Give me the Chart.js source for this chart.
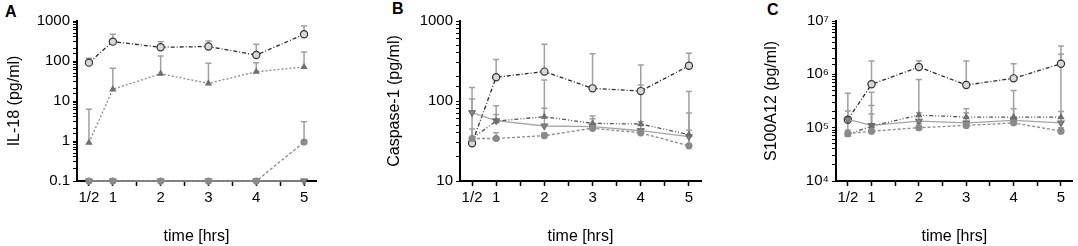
<!DOCTYPE html>
<html>
<head>
<meta charset="utf-8">
<script src="https://cdn.jsdelivr.net/npm/chart.js@4"></script>
<style>
  body { margin: 0; background: #fff; width: 1078px; height: 246px; position: relative; overflow: hidden; }
  canvas { position: absolute; top: 0; }
  .letter { position: absolute; font: bold 16px Arial, "Liberation Sans", sans-serif; color: #000; }
</style>
</head>
<body>
<div class="letter" style="left:5px;top:3px">A</div>
<div class="letter" style="left:392px;top:0px">B</div>
<div class="letter" style="left:767px;top:1px">C</div>
<canvas id="il18" width="360" height="246" style="left:0px"></canvas>
<canvas id="casp" width="358" height="246" style="left:360px"></canvas>
<canvas id="s100" width="360" height="246" style="left:718px"></canvas>
<script>
// time points and x-axis labels
const times = [0.5, 1, 2, 3, 4, 5];
const timeLabels = ["1/2", "1", "2", "3", "4", "5"];
const xTickValues = [0.5, 1, 1.5, 2, 2.5, 3, 3.5, 4, 4.5, 5];

// IL-18 (pg/ml)
const il18Open = [91, 305, 220, 230, 141, 465];
const il18OpenSD = [117, 465, 305, 316, 262, 750];
const il18Up = [0.91, 19.6, 48, 27.5, 54, 71];
const il18UpSD = [6.2, 66, 133, 88, 91, 168];
const il18Filled = [0.1, 0.1, 0.1, 0.1, 0.1, 0.94];
const il18FilledSD = [null, null, null, null, null, 3.05];
const il18Down = [0.1, 0.1, 0.1, 0.1, 0.1, 0.1];
const il18DownSD = [null, null, null, null, null, null];

// Caspase-1 (pg/ml)
const caspOpen = [29.6, 198, 233, 144, 133, 276];
const caspOpenSD = [34, 331, 512, 390, 282, 395];
const caspDown = [71.5, 56.7, 48.7, 47.7, 42.5, 35.8];
const caspDownSD = [147, 87, 183, 65, 158, 131];
const caspUp = [34, 56, 63.6, 52.5, 51.5, 38];
const caspUpSD = [106, 68, 81, 60, 55, 71];
const caspFilled = [34, 34, 36.9, 45.6, 40, 27.5];
const caspFilledSD = [44.7, 40, 40, 50, 45, 43];

// S100A12 (pg/ml)
const s100Open = [1.41e5, 6.5e5, 1.37e6, 6.3e5, 8.4e5, 1.58e6];
const s100OpenSD = [4.4e5, 1.78e6, 1.8e6, 1.78e6, 1.58e6, 3.4e6];
const s100Down = [1.43e5, 1.1e5, 1.33e5, 1.23e5, 1.37e5, 1.23e5];
const s100DownSD = [2.05e5, 4.6e5, 8e5, 2.26e5, 5e5, 2.37e6];
const s100Up = [7.5e4, 1.07e5, 1.72e5, 1.58e5, 1.58e5, 1.58e5];
const s100UpSD = [1.6e5, 2.6e5, 1.9e5, 1.9e5, 2.26e5, 2e5];
const s100Filled = [7.7e4, 8.6e4, 1e5, 1.1e5, 1.23e5, 8.6e4];
const s100FilledSD = [9e4, 1.8e5, 1.2e5, 1.3e5, 1.4e5, 1e5];

Chart.defaults.font.family = "Arial, 'Liberation Sans', sans-serif";
Chart.defaults.color = "#000";

// upward SD bars with caps, drawn under the markers
const errorBars = {
  id: "errorBars",
  beforeDatasetsDraw(chart) {
    const ctx = chart.ctx;
    const xs = chart.scales.x;
    const ys = chart.scales.y;
    ctx.save();
    ctx.strokeStyle = "#a0a0a0";
    ctx.lineWidth = 1.5;
    chart.data.datasets.forEach((ds) => {
      (ds.sd || []).forEach((top, i) => {
        if (top == null) return;
        const px = xs.getPixelForValue(ds.data[i].x);
        const p0 = ys.getPixelForValue(ds.data[i].y);
        const p1 = ys.getPixelForValue(top);
        ctx.beginPath();
        ctx.moveTo(px, p0);
        ctx.lineTo(px, p1);
        ctx.moveTo(px - 3, p1);
        ctx.lineTo(px + 3, p1);
        ctx.stroke();
      });
    });
    ctx.restore();
  },
};

const toPoints = (vals) => vals.map((v, i) => ({ x: times[i], y: v }));

function series(vals, sd, style) {
  return Object.assign(
    {
      data: toPoints(vals),
      sd: sd,
      borderWidth: 1.3,
      pointRadius: 3,
      pointBorderWidth: 1.2,
      clip: 10,
    },
    style
  );
}

const openStyle = { borderColor: "#2a2a2a", borderDash: [4, 2, 1, 2], pointStyle: "circle", pointBackgroundColor: "#d8d8d8", pointBorderColor: "#333", pointRadius: 3.6 };
const upStyle = { borderColor: "#8a8a8a", borderDash: [2, 2], pointStyle: "triangle", pointBackgroundColor: "#6e6e6e", pointBorderColor: "#6e6e6e" };
const upDarkStyle = { borderColor: "#555", borderDash: [4, 2, 1, 2, 1, 2], pointStyle: "triangle", pointBackgroundColor: "#6e6e6e", pointBorderColor: "#6e6e6e" };
const filledStyle = { borderColor: "#8a8a8a", borderDash: [3, 2], pointStyle: "circle", pointBackgroundColor: "#8a8a8a", pointBorderColor: "#8a8a8a" };
const downStyle = { borderColor: "#a5a5a5", pointStyle: "triangle", rotation: 180, pointBackgroundColor: "#8c8c8c", pointBorderColor: "#6a6a6a", pointRadius: 3.6 };

function isDecade(v) {
  const l = Math.log10(v);
  return Math.abs(l - Math.round(l)) < 1e-9;
}

function makePanel(id, datasets, o) {
  new Chart(document.getElementById(id), {
    type: "line",
    data: { datasets: datasets },
    plugins: [errorBars],
    options: {
      responsive: false,
      animation: false,
      layout: { padding: { top: 21, left: 0, right: o.right, bottom: 0 } },
      plugins: { legend: { display: false }, tooltip: { enabled: false } },
      scales: {
        x: {
          type: "linear",
          min: 0.25,
          max: 5.25,
          afterBuildTicks: (s) => { s.ticks = xTickValues.map((v) => ({ value: v })); },
          afterFit: (s) => { s.height = 65; },
          border: { display: true, color: "#000", width: 2 },
          grid: { drawOnChartArea: false, drawTicks: true, tickLength: 5, tickColor: "#000", tickWidth: 1.5 },
          ticks: {
            autoSkip: false,
            maxRotation: 0,
            padding: 3,
            font: { size: 15 },
            callback: (v) => { const i = times.indexOf(v); return i >= 0 ? timeLabels[i] : ""; },
          },
          title: { display: true, text: "time [hrs]", font: { size: 16 }, padding: { top: 0, bottom: 0 } },
        },
        y: {
          type: "logarithmic",
          min: o.min,
          max: o.max,
          afterFit: (s) => { s.width = o.yWidth; },
          border: { display: true, color: "#000", width: 2 },
          grid: { drawOnChartArea: false, drawTicks: true, tickLength: 4, tickColor: "#000", tickWidth: 1 },
          ticks: {
            autoSkip: false,
            padding: 3,
            font: { size: 15 },
            callback: (v) => (isDecade(v) ? o.fmt(v) : ""),
          },
          title: { display: true, text: o.title, font: { size: 16 }, padding: { top: o.titlePad, bottom: 0 } },
        },
      },
    },
  });
}

const sup = { 4: "\u2074", 5: "\u2075", 6: "\u2076", 7: "\u2077" };

makePanel(
  "il18",
  [
    series(il18Filled, il18FilledSD, filledStyle),
    series(il18Down, il18DownSD, downStyle),
    series(il18Up, il18UpSD, upStyle),
    series(il18Open, il18OpenSD, openStyle),
  ],
  { min: 0.1, max: 1000, yWidth: 77, right: 44, title: "IL-18 (pg/ml)", titlePad: 5, fmt: (v) => String(v) }
);

makePanel(
  "casp",
  [
    series(caspFilled, caspFilledSD, filledStyle),
    series(caspUp, caspUpSD, upDarkStyle),
    series(caspDown, caspDownSD, downStyle),
    series(caspOpen, caspOpenSD, openStyle),
  ],
  { min: 10, max: 1000, yWidth: 100, right: 17, title: "Caspase-1 (pg/ml)", titlePad: 25, fmt: (v) => String(v) }
);

makePanel(
  "s100",
  [
    series(s100Filled, s100FilledSD, filledStyle),
    series(s100Up, s100UpSD, upDarkStyle),
    series(s100Down, s100DownSD, downStyle),
    series(s100Open, s100OpenSD, openStyle),
  ],
  { min: 1e4, max: 1e7, yWidth: 118, right: 2, title: "S100A12 (pg/ml)", titlePad: 44, fmt: (v) => "10" + sup[Math.round(Math.log10(v))] }
);
</script>
</body>
</html>
